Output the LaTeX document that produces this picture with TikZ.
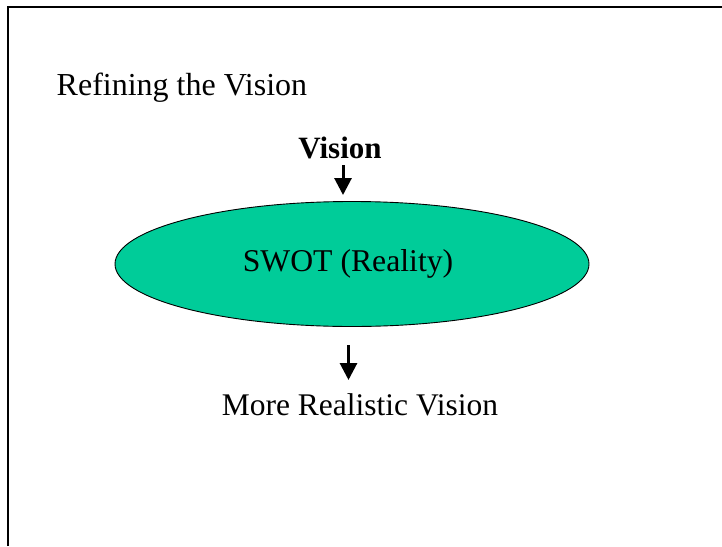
\documentclass[tikz,border=0pt]{standalone}
\usepackage{fontspec}
\setmainfont{Liberation Serif}
\usepackage{tikz}
\usetikzlibrary{shapes.geometric,arrows.meta,positioning}
\definecolor{swotgreen}{RGB}{0,204,153}

\begin{document}
\begin{tikzpicture}[x=1pt,y=1pt,
				bigtext/.style ={inner sep=0pt, font=\fontsize{32}{38}\selectfont},
				swot_ellipse/.style ={ellipse, draw=black, line width=0.9pt, fill=swotgreen,
					minimum width=474pt, minimum height=125pt, inner sep=0pt,
					font=\fontsize{31.7}{38}\selectfont},
				blockarrow/.style ={draw, line width=3pt, -{Triangle[width=17pt,length=17pt]}}]
				% page and frame
				\useasboundingbox (0,0) rectangle (722,-546);
				\draw[line width=2pt] (8,-546) -- (8,-7) -- (722,-7);
				% texts
				\node [bigtext, anchor=base west] (title) at (56.5,-95) {Refining the Vision};
				\node [bigtext, anchor=base, font=\fontsize{31}{37}\selectfont\bfseries] (vision) at (340,-158) {Vision};
				\node [swot_ellipse] (swot) at (352,-264) {SWOT (Reality)\kern8pt};
				\node [bigtext, anchor=base, font=\fontsize{31.5}{38}\selectfont] (realistic) at (360,-415) {More Realistic Vision};
				% arrows
				\coordinate (a1) at (343,-165);
				\coordinate (a1end) at (343,-195);
				\coordinate (a2) at (348.5,-345);
				\coordinate (a2end) at (348.5,-380);
				\path [blockarrow] (a1) -- (a1end);
				\path [blockarrow] (a2) -- (a2end);
			\end{tikzpicture}
\end{document}
